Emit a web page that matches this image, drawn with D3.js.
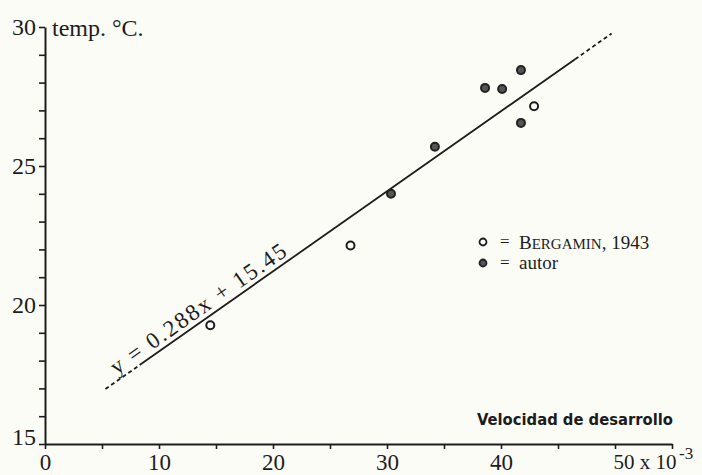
<!DOCTYPE html>
<html>
<head>
<meta charset="utf-8">
<script src="https://cdn.jsdelivr.net/npm/d3@7"></script>
<style>
  body { margin: 0; background: #fcfcf7; }
  svg { display: block; }
  .serif { font-family: 'Liberation Serif', 'DejaVu Serif', serif; fill: #1c1c1c; }
</style>
</head>
<body>
<svg id="chart" width="702" height="475"></svg>
<script>
  // values (x in 10^-3 units, y in degrees C)
  var bergaminX = [14.5, 26.8, 42.9];
  var bergaminY = [19.27, 22.14, 27.15];
  var autorX = [30.35, 34.2, 38.6, 40.1, 41.75, 41.75];
  var autorY = [24.0, 25.69, 27.81, 27.77, 28.45, 26.55];

  // regression y = 0.288x + 15.45, dashed ends and solid middle
  var slope = 0.288;
  var intercept = 15.45;
  var lineBreaks = [5.3, 8.3, 46.5, 49.7];

  var xTickValues = [0, 5, 10, 15, 20, 25, 30, 35, 40, 45, 50, 55];
  var xTickLabels = { 0: '0', 10: '10', 20: '20', 30: '30', 40: '40', 50: '50 x 10' };
  var yTickValues = d3.range(15, 31);
  var yTickLabels = { 15: '15', 20: '20', 25: '25', 30: '30' };

  var ink = '#1c1c1c';
  var svg = d3.select('#chart');

  var x = d3.scaleLinear().domain([0, 55]).range([45, 672]);
  var y = d3.scaleLinear().domain([15, 30]).range([444, 27]);

  // y axis
  var yAxis = svg.append('g')
    .attr('transform', 'translate(' + x(0) + ',0)')
    .call(d3.axisLeft(y)
      .tickValues(yTickValues)
      .tickSize(6)
      .tickSizeOuter(0)
      .tickPadding(3)
      .tickFormat(function(d) { return yTickLabels[d] || ''; }));

  yAxis.select('.domain').attr('stroke', ink).attr('stroke-width', 2);
  yAxis.selectAll('.tick line').attr('stroke', ink).attr('stroke-width', 1.6);
  yAxis.selectAll('.tick text')
    .attr('class', 'serif')
    .attr('font-size', 24)
    .attr('fill', ink)
    .attr('dy', function(d) { return d === 15 ? '0' : '0.32em'; });

  // x axis
  var xAxis = svg.append('g')
    .attr('transform', 'translate(0,' + y(15) + ')')
    .call(d3.axisBottom(x)
      .tickValues(xTickValues)
      .tickSize(5)
      .tickSizeOuter(0)
      .tickPadding(5)
      .tickFormat(function(d) { return xTickLabels[d] || ''; }));

  xAxis.select('.domain').attr('stroke', ink).attr('stroke-width', 2);
  xAxis.selectAll('.tick line').attr('stroke', ink).attr('stroke-width', 1.6);
  xAxis.selectAll('.tick text')
    .attr('class', 'serif')
    .attr('font-size', function(d) { return d === 50 ? 21 : 23; })
    .attr('fill', ink)
    .attr('text-anchor', function(d) { return d === 50 ? 'start' : 'middle'; })
    .attr('dx', function(d) { return d === 50 ? -2 : 0; });

  xAxis.selectAll('.tick')
    .filter(function(d) { return d === 50; })
    .select('text')
    .append('tspan')
    .attr('dy', '-0.6em')
    .attr('dx', '0.15em')
    .attr('font-size', 17)
    .text('-3');

  // axis titles
  svg.append('text')
    .attr('class', 'serif')
    .attr('x', 52)
    .attr('y', 36)
    .attr('font-size', 24)
    .text('temp. \u00b0C.');

  svg.append('text')
    .attr('x', 477)
    .attr('y', 425)
    .attr('font-family', "'DejaVu Sans Condensed', 'Liberation Sans Narrow', sans-serif")
    .attr('font-weight', 'bold')
    .attr('font-size', 16)
    .attr('fill', ink)
    .attr('textLength', 196)
    .attr('lengthAdjust', 'spacingAndGlyphs')
    .text('Velocidad de desarrollo');

  // regression line
  var lineGen = d3.line()
    .x(function(d) { return x(d); })
    .y(function(d) { return y(slope * d + intercept); });

  var segments = [
    { pts: [lineBreaks[0], lineBreaks[1]], dash: '4,3' },
    { pts: [lineBreaks[1], lineBreaks[2]], dash: null },
    { pts: [lineBreaks[2], lineBreaks[3]], dash: '4,3' }
  ];

  svg.selectAll('path.reg')
    .data(segments)
    .enter().append('path')
    .attr('class', 'reg')
    .attr('d', function(d) { return lineGen(d.pts); })
    .attr('fill', 'none')
    .attr('stroke', ink)
    .attr('stroke-width', 1.8)
    .attr('stroke-dasharray', function(d) { return d.dash; });

  // equation label along the line
  var angle = Math.atan2(y(slope * 10 + intercept) - y(intercept), x(10) - x(0)) * 180 / Math.PI;
  var labelX = 6.3;
  svg.append('text')
    .attr('class', 'serif')
    .attr('font-size', 23)
    .attr('transform', 'translate(' + x(labelX) + ',' + y(slope * labelX + intercept) + ') rotate(' + angle + ') translate(3,-5)')
    .attr('textLength', 210)
    .attr('lengthAdjust', 'spacing')
    .text('y = 0.288x + 15.45');

  // points
  var bergamin = bergaminX.map(function(v, i) { return [v, bergaminY[i]]; });
  var autor = autorX.map(function(v, i) { return [v, autorY[i]]; });

  svg.selectAll('circle.bergamin')
    .data(bergamin)
    .enter().append('circle')
    .attr('class', 'bergamin')
    .attr('cx', function(d) { return x(d[0]); })
    .attr('cy', function(d) { return y(d[1]); })
    .attr('r', 4)
    .attr('fill', '#ffffff')
    .attr('stroke', ink)
    .attr('stroke-width', 2);

  svg.selectAll('circle.autor')
    .data(autor)
    .enter().append('circle')
    .attr('class', 'autor')
    .attr('cx', function(d) { return x(d[0]); })
    .attr('cy', function(d) { return y(d[1]); })
    .attr('r', 4)
    .attr('fill', '#555')
    .attr('stroke', '#222')
    .attr('stroke-width', 2);

  // legend
  var legend = svg.append('g').attr('transform', 'translate(483,242)');

  legend.append('circle')
    .attr('cx', 0).attr('cy', 0).attr('r', 3.5)
    .attr('fill', '#fff').attr('stroke', ink).attr('stroke-width', 1.8);
  legend.append('circle')
    .attr('cx', 0).attr('cy', 21).attr('r', 3.5)
    .attr('fill', '#555').attr('stroke', '#222').attr('stroke-width', 1.8);

  legend.selectAll('text.eq')
    .data([0, 21])
    .enter().append('text')
    .attr('class', 'serif eq')
    .attr('x', 17)
    .attr('y', function(d) { return d + 5; })
    .attr('font-size', 17)
    .text('=');

  var row1 = legend.append('text')
    .attr('class', 'serif')
    .attr('x', 36)
    .attr('y', 7)
    .attr('font-size', 19);
  row1.append('tspan').text('B');
  row1.append('tspan').attr('font-size', 15).text('ERGAMIN');
  row1.append('tspan').text(', 1943');

  legend.append('text')
    .attr('class', 'serif')
    .attr('x', 36)
    .attr('y', 27)
    .attr('font-size', 19)
    .text('autor');
</script>
</body>
</html>
